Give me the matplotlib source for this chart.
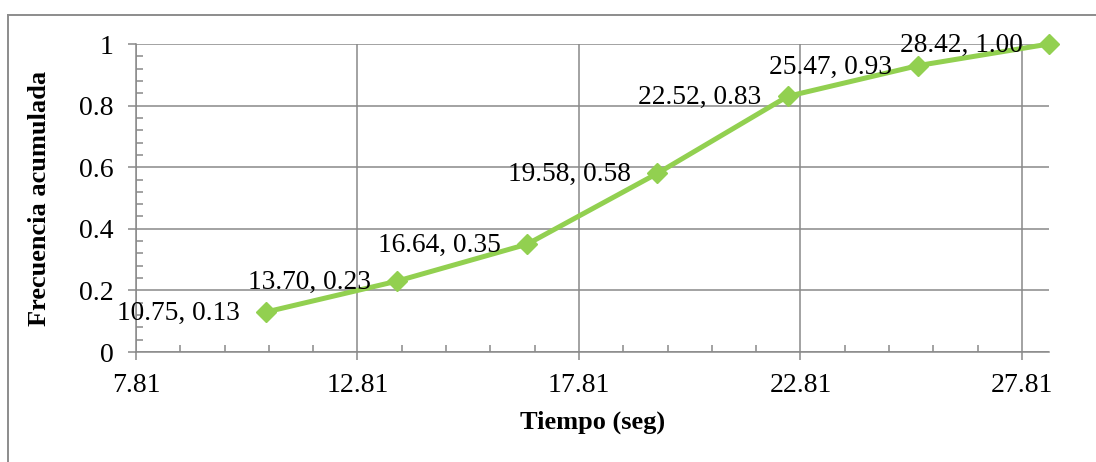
import matplotlib.pyplot as plt
from matplotlib.lines import Line2D
from matplotlib.ticker import MultipleLocator, FixedLocator

# data
tiempo = [10.75, 13.70, 16.64, 19.58, 22.52, 25.47, 28.42]
frecuencia = [0.13, 0.23, 0.35, 0.58, 0.83, 0.93, 1.00]
x_ticks = [7.81, 12.81, 17.81, 22.81, 27.81]
y_ticks = [0, 0.2, 0.4, 0.6, 0.8, 1]
y_tick_labels = ['0', '0.2', '0.4', '0.6', '0.8', '1']

plt.rcParams['font.family'] = ['Liberation Serif', 'DejaVu Serif']

fig = plt.figure(figsize=(10.96, 4.62), dpi=100)
ax = fig.add_axes([136 / 1096, 1 - 352 / 462, (1049 - 136) / 1096, (352 - 44) / 462])

grid_c = '#898989'
green = '#92D050'

ax.plot(tiempo, frecuencia, color=green, linewidth=3.6, marker='D',
        markersize=10, clip_on=False, zorder=3)

# data labels sit to the left of each point
for x, y in zip(tiempo, frecuencia):
    ax.annotate(f'{x:.2f}, {y:.2f}', (x, y), xytext=(-19, -1),
                textcoords='offset points', ha='right', va='center',
                fontsize=19.7, zorder=4)

ax.set_xlim(7.81, 28.42)
ax.set_ylim(0, 1)
ax.xaxis.set_major_locator(FixedLocator(x_ticks))
ax.xaxis.set_minor_locator(MultipleLocator(1.0, offset=0.81))
ax.set_xticklabels([f'{t:.2f}' for t in x_ticks])
ax.yaxis.set_major_locator(FixedLocator(y_ticks))
ax.yaxis.set_minor_locator(MultipleLocator(0.04))
ax.set_yticklabels(y_tick_labels)

ax.grid(True, which='major', color=grid_c, linewidth=1.1)
ax.set_axisbelow(True)
for side in ['top', 'right']:
    ax.spines[side].set_visible(False)
for side in ['left', 'bottom']:
    ax.spines[side].set_color(grid_c)
    ax.spines[side].set_linewidth(1.1)

ax.tick_params(which='major', direction='out', length=6, width=1.1,
               color=grid_c, labelsize=20)
ax.tick_params(axis='x', which='major', pad=9)
ax.tick_params(axis='y', which='major', pad=10)
ax.tick_params(which='minor', direction='in', length=5, width=1.1, color=grid_c)

ax.set_xlabel('Tiempo (seg)', fontsize=19, fontweight='bold', labelpad=9)
ax.set_ylabel('Frecuencia acumulada', fontsize=19, fontweight='bold', labelpad=20)

# outer chart-area frame (left and top only visible)
fig.add_artist(Line2D([8 / 1096, 8 / 1096], [0, 1 - 15 / 462], color='#8c8c8c', linewidth=1.4))
fig.add_artist(Line2D([8 / 1096, 1], [1 - 15 / 462, 1 - 15 / 462], color='#8c8c8c', linewidth=1.4))

fig.savefig('out.png', dpi=100)
